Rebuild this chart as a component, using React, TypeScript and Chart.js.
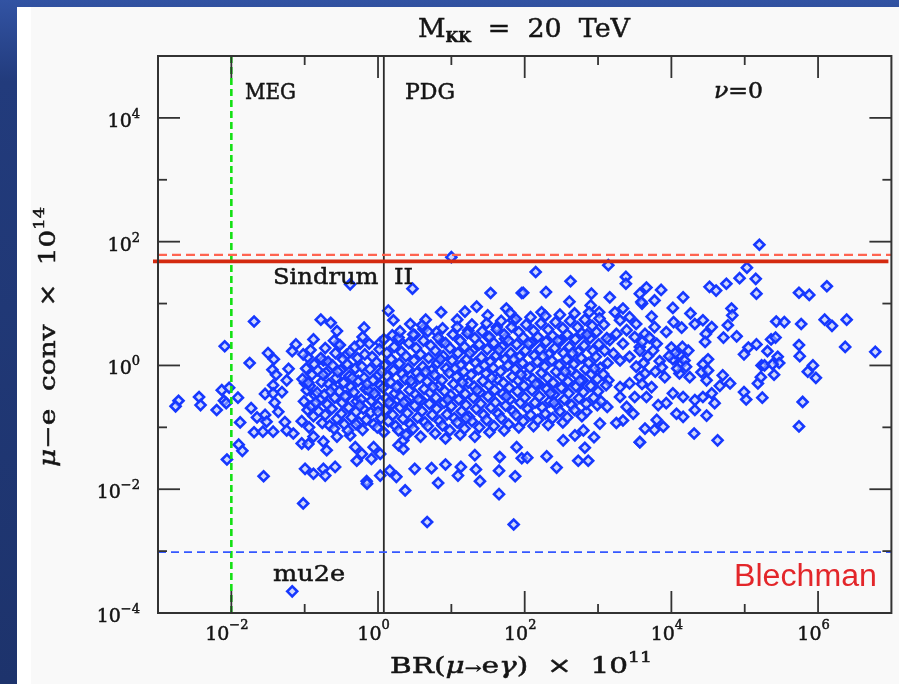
import React, { useEffect, useRef } from "react";
import { Chart, registerables } from "chart.js";
Chart.register(...registerables);

type P = [number, number]; // [log10 BR x 1e11, log10 conv x 1e14]

// axis ranges & ticks (decade exponents)
const xRangeExp: [number, number] = [-3, 7];
const yRangeExp: [number, number] = [-4, 5];
const xMajorExp = [-2, 0, 2, 4, 6];
const xMinorExp = [-1, 1, 3, 5];
const yMajorExp = [-4, -2, 0, 2, 4];
const yMinorExp = [-3, -1, 1, 3];

// experimental limits
const megLimit = 0.01;
const pdgLimit = 1.2;
const sindrumSolid = 48;
const sindrumDashed = 61;
const mu2eLimit = 0.00096;

// scatter values (as decade exponents)
const sparseLeft: P[] = [
  [-1.69,0.71],[-2.09,0.31],[-1.75,0.04],[-1.50,0.20],[-1.42,0.10],[-1.44,-0.07],[-1.39,-0.15],[-1.43,-0.32],
  [-2.13,-0.40],[-2.03,-0.36],[-2.44,-0.51],[-2.42,-0.64],[-2.72,-0.57],[-2.76,-0.66],[-2.20,-0.72],[-2.10,-0.57],
  [-2.07,-0.61],[-1.91,-0.52],[-1.54,-0.46],[-1.43,-0.45],[-1.41,-0.60],[-1.73,-0.69],[-1.65,-0.84],[-1.54,-0.80],
  [-1.52,-0.91],[-1.88,-0.92],[-1.69,-1.08],[-1.57,-1.07],[-1.43,-1.07],[-1.90,-1.28],[-1.85,-1.38],[-2.06,-1.52],
  [-1.56,-1.79],[-1.36,-0.75],
];
const sparseMid: P[] = [
  [-0.78,0.74],[-0.645,0.69],[-0.56,0.555],[-0.88,0.42],[-1.12,0.34],[-1.17,0.23],[-0.55,0.345],[-0.19,0.61],
  [-0.245,0.35],[-0.21,0.46],[0.14,0.885],[0.21,0.73],[0.195,0.485],[0.29,0.405],[0.03,0.37],[-0.96,0.135],
  [-0.745,0.08],[-0.43,0.17],[-1.22,-0.055],[-1.245,-0.24],[-0.995,-0.285],[-1.31,-0.43],
  [-1.27,-0.915],[-1.245,-1.05],[-1.155,-1.10],[-1.04,-1.26],[-0.95,-1.27],[-0.88,-1.15],[-0.745,-1.23],[-0.70,-1.37],
  [-0.56,-1.15],[-0.38,-1.13],[-0.31,-1.32],[-0.22,-1.43],[-0.06,-1.32],[-0.29,-1.54],[-0.09,-1.51],[0.03,-1.43],
  [-0.995,-1.67],[-0.88,-1.75],[-0.745,-1.67],[-0.72,-1.78],[-0.585,-1.64],[-0.155,-1.87],[0.03,-1.78],[0.16,-1.70],
  [0.25,-1.80],[0.28,-1.29],[0.345,-1.21],
];
const outliers: P[] = [
  [-1.02,-2.23],[-1.17,-3.65],[-0.15,-1.91],[0.37,-2.02],[0.67,-2.53],[0.82,-1.90],[1.39,-1.87],[1.65,-2.08],[1.85,-2.57],
  [-0.38,1.31],[0.47,1.24],[1.0,1.75],[1.535,1.17],[1.96,1.17],
];
const sparseCenter: P[] = [
  [1.87,-1.79],[0.50,-1.67],[0.73,-1.66],[0.92,-1.60],[1.13,-1.64],[1.09,-1.78],[1.335,-1.68],[1.66,-1.48],[1.65,-1.70],
  [1.32,-1.45],[0.345,-1.35],[0.39,-1.12],[1.89,-1.32],[1.96,-1.50],
  [0.86,0.86],[0.65,0.74],[0.44,0.67],[1.08,0.74],[1.185,0.87],[1.345,0.95],[1.495,0.81],[1.75,0.92],[1.84,0.73],
  [0.87,0.38],[0.80,0.54],[0.62,0.59],[0.50,0.49],[1.23,0.565],[1.50,0.46],[1.73,0.43],[1.62,0.62],[1.12,0.40],
];
const sparseRightMid: P[] = [
  [2.15,1.51],[2.625,1.36],[1.98,1.175],[2.29,1.185],[3.14,1.62],[3.38,1.43],[3.38,1.32],[3.57,1.16],[3.60,1.0],
  [2.61,1.03],[2.91,1.16],[2.90,0.97],[3.015,0.86],[2.23,0.86],[3.16,1.10],
  [2.84,-0.75],[3.125,-0.67],[2.99,-0.64],[2.525,-1.21],[2.685,-1.13],[2.80,-1.05],[2.945,-1.16],[2.82,-1.33],
  [2.73,-1.54],[2.866,-1.54],[2.435,-1.65],[2.30,-1.47],[2.035,-1.49],[3.57,-1.24],[3.34,-0.89],[3.48,-0.78],
  [3.25,-0.93],[3.025,-0.94],
  [3.23,0.86],[3.34,0.92],[3.30,0.73],[3.43,0.78],[3.52,0.67],[3.39,0.57],[3.25,0.51],[3.50,0.46],[3.16,0.41],
  [3.34,0.35],[3.57,0.30],[3.43,0.14],[3.30,0.08],[3.52,-0.02],[3.21,0.19],[3.14,-0.24],[3.30,-0.35],[3.43,-0.29],
  [3.50,-0.51],[3.30,-0.51],[3.39,-0.67],[3.57,-0.19],
];
const sparseRight: P[] = [
  [5.2,1.95],[5.03,1.58],[4.93,1.41],[5.15,1.40],[5.16,1.16],[4.52,1.27],[4.61,1.21],[4.75,1.32],[3.66,1.26],[3.86,1.22],
  [3.77,1.05],[4.16,1.10],[3.59,1.025],[4.02,0.93],[4.82,0.92],[4.83,0.81],[4.26,0.84],[3.73,0.79],[4.43,0.73],[4.55,0.62],
  [4.77,0.65],[4.71,0.45],[4.89,0.47],[4.47,0.51],[4.46,0.38],[4.03,0.70],[4.14,0.61],[4.32,0.67],[3.93,0.54],[3.77,0.62],
  [3.64,0.51],[5.16,0.34],[5.05,0.29],[4.99,0.18],[3.57,0.24],[3.75,0.24],[4.0,0.29],[4.11,0.18],[4.23,0.24],[4.02,0.1],
  [4.13,0.02],[3.62,0.04],[3.84,0.07],[4.43,0.02],[4.5,0.1],[4.41,-0.11],[4.5,-0.08],[3.87,-0.03],[3.64,-0.13],[4.11,-0.13],
  [3.91,-0.19],[4.25,-0.19],[4.48,-0.24],[4.7,-0.16],[4.8,-0.29],[4.66,-0.33],[3.73,-0.35],[3.66,-0.51],[4.02,-0.45],[4.16,-0.51],
  [4.32,-0.56],[4.43,-0.51],[4.55,-0.45],[4.59,-0.61],[4.32,-0.72],[4.48,-0.81],[3.93,-0.61],[3.82,-0.64],[3.8,-0.88],[4.07,-0.78],
  [4.16,-0.83],[3.64,-1.02],[3.77,-1.04],[3.89,-0.99],[3.57,-1.24],[4.31,-1.1],[4.63,-1.21],[4.99,-0.43],[5.02,-0.55],[5.18,-0.29],
  [5.23,0.0],[4.05,0.2],[4.18,0.08],[4.08,-0.05],[4.2,-0.02],[3.97,0.15],[4.15,0.3],[3.7,0.45],[3.6,0.38],[3.8,0.35],
  [3.68,0.15],[3.78,-0.1],[3.6,-0.3],
];
const sparseFarRight: P[] = [
  [5.74,1.175],[5.88,1.14],[6.12,1.28],[5.43,0.71],[5.54,0.70],[5.77,0.67],[6.09,0.74],[6.19,0.64],
  [6.39,0.74],[5.36,0.42],[5.42,0.45],[5.31,0.23],[5.74,0.33],[5.75,0.15],[6.37,0.3],[6.78,0.22],[5.45,0.14],[5.47,0.04],
  [5.27,0.0],[5.38,0.02],[5.93,-0.0],[5.86,-0.1],[5.97,-0.2],[5.4,-0.15],[5.22,-0.19],[5.24,-0.52],[5.79,-0.59],[5.74,-0.985],
];
const cloudLeft: P[] = [
  [-1.02,0.18],[-0.98,-0.05],[-1.03,-0.22],[-0.97,-0.4],[-1.01,-0.58],[-0.96,-0.72],[-1.04,-0.9],
  [-0.92,0.25],[-0.87,0.02],[-0.9,-0.15],[-0.93,-0.33],[-0.86,-0.48],[-0.91,-0.66],[-0.88,-0.82],[-0.94,-1.0],
  [-0.78,0.12],[-0.82,-0.08],[-0.77,-0.27],[-0.83,-0.44],[-0.79,-0.55],[-0.81,-0.74],[-0.76,-0.93],
  [-0.72,0.28],[-0.68,0.06],[-0.71,-0.12],[-0.67,-0.3],[-0.73,-0.47],[-0.69,-0.63],[-0.72,-0.8],[-0.66,-0.97],
  [-0.58,0.2],[-0.62,0.0],[-0.57,-0.2],[-0.61,-0.36],[-0.59,-0.52],[-0.63,-0.7],[-0.56,-0.86],[-0.6,-1.02],
  [-0.52,0.33],[-0.48,0.1],[-0.51,-0.08],[-0.47,-0.28],[-0.53,-0.42],[-0.49,-0.6],[-0.5,-0.78],[-0.46,-0.95],
  [-0.38,0.22],[-0.42,0.02],[-0.39,-0.17],[-0.37,-0.35],[-0.43,-0.5],[-0.4,-0.68],[-0.36,-0.84],[-0.41,-1.05],
  [-0.32,0.3],[-0.28,0.12],[-0.31,-0.05],[-0.27,-0.25],[-0.33,-0.43],[-0.29,-0.58],[-0.3,-0.75],[-0.26,-0.92],
  [-0.18,0.18],[-0.22,-0.02],[-0.19,-0.2],[-0.17,-0.38],[-0.23,-0.55],[-0.2,-0.7],[-0.16,-0.88],[-0.21,-1.04],
  [-0.12,0.35],[-0.08,0.14],[-0.11,-0.06],[-0.07,-0.24],[-0.13,-0.4],[-0.09,-0.57],[-0.1,-0.76],[-0.06,-0.95],
  [0.02,0.26],[-0.02,0.05],[0.01,-0.15],[0.03,-0.32],[-0.03,-0.5],[0.0,-0.66],[0.04,-0.85],[-0.01,-1.0],
  [0.08,0.42],[0.12,0.2],[0.09,0.0],[0.13,-0.18],[0.07,-0.36],[0.11,-0.53],[0.1,-0.72],[0.14,-0.9],[0.08,-1.08],
  [0.22,0.3],[0.18,0.1],[0.21,-0.08],[0.17,-0.27],[0.23,-0.45],[0.19,-0.62],[0.2,-0.8],[0.24,-0.98],
  [0.28,0.45],[0.32,0.22],[0.29,0.03],[0.33,-0.14],[0.27,-0.33],[0.31,-0.5],[0.3,-0.68],[0.34,-0.86],[0.28,-1.05],
  [0.42,0.36],[0.38,0.15],[0.41,-0.05],[0.37,-0.22],[0.43,-0.4],[0.39,-0.58],[0.4,-0.77],[0.44,-0.95],[0.38,-1.12],
];
const cloudCenter: P[] = [
  [0.48,0.5],[0.52,0.28],[0.49,0.08],[0.53,-0.12],[0.47,-0.3],[0.51,-0.47],[0.5,-0.65],[0.54,-0.84],[0.48,-1.02],
  [0.62,0.4],[0.58,0.18],[0.61,-0.02],[0.57,-0.2],[0.63,-0.38],[0.59,-0.56],[0.6,-0.74],[0.64,-0.92],[0.58,-1.15],
  [0.68,0.55],[0.72,0.32],[0.69,0.12],[0.73,-0.08],[0.67,-0.26],[0.71,-0.44],[0.7,-0.62],[0.74,-0.8],[0.68,-0.98],
  [0.82,0.45],[0.78,0.24],[0.81,0.04],[0.77,-0.15],[0.83,-0.33],[0.79,-0.52],[0.8,-0.7],[0.84,-0.9],[0.78,-1.1],
  [0.88,0.6],[0.92,0.36],[0.89,0.15],[0.93,-0.05],[0.87,-0.24],[0.91,-0.42],[0.9,-0.6],[0.94,-0.79],[0.88,-0.97],[0.92,-1.18],
  [1.02,0.5],[0.98,0.28],[1.01,0.08],[0.97,-0.12],[1.03,-0.3],[0.99,-0.48],[1.0,-0.66],[1.04,-0.85],[0.98,-1.05],
  [1.08,0.62],[1.12,0.4],[1.09,0.2],[1.13,0.0],[1.07,-0.18],[1.11,-0.37],[1.1,-0.55],[1.14,-0.74],[1.08,-0.92],[1.12,-1.12],
  [1.22,0.52],[1.18,0.3],[1.21,0.1],[1.17,-0.1],[1.23,-0.28],[1.19,-0.46],[1.2,-0.64],[1.24,-0.83],[1.18,-1.02],
  [1.28,0.66],[1.32,0.44],[1.29,0.24],[1.33,0.04],[1.27,-0.15],[1.31,-0.34],[1.3,-0.52],[1.34,-0.7],[1.28,-0.9],[1.32,-1.15],
  [1.42,0.55],[1.38,0.34],[1.41,0.13],[1.37,-0.06],[1.43,-0.25],[1.39,-0.43],[1.4,-0.62],[1.44,-0.8],[1.38,-1.0],
  [1.48,0.68],[1.52,0.46],[1.49,0.26],[1.53,0.06],[1.47,-0.13],[1.51,-0.32],[1.5,-0.5],[1.54,-0.68],[1.48,-0.88],[1.52,-1.08],
  [1.62,0.58],[1.58,0.36],[1.61,0.16],[1.57,-0.04],[1.63,-0.22],[1.59,-0.4],[1.6,-0.6],[1.64,-0.78],[1.58,-0.98],
  [1.68,0.72],[1.72,0.5],[1.69,0.3],[1.73,0.1],[1.67,-0.1],[1.71,-0.28],[1.7,-0.46],[1.74,-0.65],[1.68,-0.85],[1.72,-1.05],
  [1.82,0.62],[1.78,0.4],[1.81,0.2],[1.77,0.0],[1.83,-0.18],[1.79,-0.36],[1.8,-0.55],[1.84,-0.74],[1.78,-0.95],
  [1.88,0.75],[1.92,0.54],[1.89,0.34],[1.93,0.14],[1.87,-0.06],[1.91,-0.24],[1.9,-0.42],[1.94,-0.6],[1.88,-0.8],[1.92,-1.0],
];
const cloudRight: P[] = [
  [2.02,0.66],[1.98,0.45],[2.01,0.24],[1.97,0.04],[2.03,-0.15],[1.99,-0.33],[2.0,-0.52],[2.04,-0.7],[1.98,-0.9],
  [2.08,0.78],[2.12,0.56],[2.09,0.36],[2.13,0.16],[2.07,-0.04],[2.11,-0.22],[2.1,-0.4],[2.14,-0.6],[2.08,-0.8],[2.12,-0.98],
  [2.22,0.68],[2.18,0.46],[2.21,0.26],[2.17,0.06],[2.23,-0.12],[2.19,-0.3],[2.2,-0.5],[2.24,-0.68],[2.18,-0.88],
  [2.28,0.8],[2.32,0.58],[2.29,0.38],[2.33,0.18],[2.27,-0.02],[2.31,-0.2],[2.3,-0.38],[2.34,-0.58],[2.28,-0.78],[2.32,-0.96],
  [2.42,0.7],[2.38,0.48],[2.41,0.28],[2.37,0.08],[2.43,-0.1],[2.39,-0.28],[2.4,-0.47],[2.44,-0.66],[2.38,-0.85],
  [2.48,0.82],[2.52,0.6],[2.49,0.4],[2.53,0.2],[2.47,0.0],[2.51,-0.18],[2.5,-0.36],[2.54,-0.55],[2.48,-0.74],[2.52,-0.92],
  [2.62,0.72],[2.58,0.5],[2.61,0.3],[2.57,0.1],[2.63,-0.08],[2.59,-0.26],[2.6,-0.45],[2.64,-0.64],[2.58,-0.84],
  [2.68,0.84],[2.72,0.62],[2.69,0.42],[2.73,0.22],[2.67,0.02],[2.71,-0.16],[2.7,-0.34],[2.74,-0.53],[2.68,-0.72],
  [2.82,0.74],[2.78,0.52],[2.81,0.32],[2.77,0.12],[2.83,-0.06],[2.79,-0.24],[2.8,-0.43],[2.84,-0.62],[2.78,-0.82],
  [2.88,0.86],[2.92,0.64],[2.89,0.44],[2.93,0.24],[2.87,0.04],[2.91,-0.14],[2.9,-0.33],[2.94,-0.52],
  [3.02,0.76],[2.98,0.54],[3.01,0.34],[2.97,0.14],[3.03,-0.04],[2.99,-0.22],[3.0,-0.42],[3.04,-0.58],
  [3.08,0.66],[3.12,0.44],[3.09,0.24],[3.13,0.04],[3.07,-0.14],[3.11,-0.32],
];
// extra points filling the dense core (read between the columns above)
const cloudCore: P[] = [
  [-0.95,-0.28],[-0.85,-0.6],[-0.75,-0.15],[-0.65,-0.42],[-0.55,-0.1],[-0.45,-0.5],[-0.35,-0.2],[-0.25,-0.65],
  [-0.15,-0.3],[-0.05,-0.45],[0.05,-0.1],[0.15,-0.6],[0.25,-0.35],[0.35,-0.6],[0.45,-0.25],[0.55,-0.55],
  [0.65,-0.1],[0.75,-0.35],[0.85,0.1],[0.95,-0.55],[1.05,-0.05],[1.15,-0.28],[1.25,0.2],[1.35,-0.4],
  [1.45,0.0],[1.55,-0.2],[1.65,0.25],[1.75,-0.5],[1.85,0.1],[1.95,-0.15],[2.05,0.35],[2.15,-0.3],
  [2.25,0.15],[2.35,-0.45],[2.45,0.4],[2.55,-0.1],[2.65,0.2],[2.75,-0.25],[2.85,0.5],[2.95,-0.05],
  [-0.6,0.4],[0.0,-0.75],[0.6,0.65],[1.2,-0.85],[1.8,0.85],[2.4,-0.6],[0.3,0.55],[-0.3,-0.95],
];

const allPoints: P[] = [
  ...sparseLeft, ...sparseMid, ...outliers, ...sparseCenter, ...sparseRightMid,
  ...sparseRight, ...sparseFarRight, ...cloudLeft, ...cloudCenter, ...cloudRight, ...cloudCore,
];

const SERIF = '"DejaVu Serif", "Liberation Serif", serif';

type Seg = { t: string; f: string; dy?: number };
function drawRich(ctx: CanvasRenderingContext2D, segs: Seg[], x: number, y: number, targetW?: number, align: "left" | "center" | "right" = "left", stroke = 0.5) {
  let w = 0;
  for (const s of segs) { ctx.font = s.f; w += ctx.measureText(s.t).width; }
  const sx = targetW ? targetW / w : 1;
  const total = w * sx;
  const start = align === "left" ? x : align === "center" ? x - total / 2 : x - total;
  ctx.save();
  ctx.translate(start, y);
  ctx.scale(sx, 1);
  ctx.textAlign = "left";
  ctx.textBaseline = "alphabetic";
  ctx.strokeStyle = ctx.fillStyle as string;
  ctx.lineWidth = stroke;
  ctx.setLineDash([]);
  let cx = 0;
  for (const s of segs) {
    ctx.font = s.f;
    ctx.fillText(s.t, cx, s.dy || 0);
    if (stroke > 0) ctx.strokeText(s.t, cx, s.dy || 0);
    cx += ctx.measureText(s.t).width;
  }
  ctx.restore();
}

const expLabel = (e: number) => (e < 0 ? "\u2212" + Math.abs(e) : String(e));

const bgPlugin = {
  id: "bg",
  beforeDraw(chart: any) {
    const { ctx, width, height } = chart;
    ctx.save();
    const g = ctx.createLinearGradient(0, 0, 0, height);
    g.addColorStop(0, "#3253a3");
    g.addColorStop(0.12, "#223b7c");
    g.addColorStop(1, "#1d336c");
    ctx.fillStyle = g;
    ctx.fillRect(0, 0, width, height);
    ctx.fillStyle = "#f9f9f9";
    ctx.fillRect(17, 7, width - 17, height - 7);
    ctx.fillStyle = "#ffffff";
    ctx.fillRect(17, 7, 14, height - 7);
    ctx.restore();
  },
};

const overlayPlugin = {
  id: "overlay",
  afterDatasetsDraw(chart: any) {
    const { ctx, chartArea: a, scales } = chart;
    const xs = scales.x, ys = scales.y;
    const line = (x1: number, y1: number, x2: number, y2: number) => {
      ctx.beginPath(); ctx.moveTo(x1, y1); ctx.lineTo(x2, y2); ctx.stroke();
    };
    ctx.save();
    // limit lines
    const gx = xs.getPixelForValue(megLimit);
    ctx.strokeStyle = "#14e014"; ctx.lineWidth = 2.6; ctx.setLineDash([7, 4]);
    line(gx, a.top, gx, a.bottom);
    const px = xs.getPixelForValue(pdgLimit);
    ctx.strokeStyle = "#2a2a2a"; ctx.lineWidth = 1.8; ctx.setLineDash([]);
    line(px, a.top, px, a.bottom);
    const rd = ys.getPixelForValue(sindrumDashed);
    ctx.strokeStyle = "#ff6450"; ctx.lineWidth = 2.2; ctx.setLineDash([9, 5]);
    line(a.left, rd, a.right, rd);
    const rs = ys.getPixelForValue(sindrumSolid);
    ctx.strokeStyle = "#d42a10"; ctx.lineWidth = 3.6; ctx.setLineDash([]);
    line(a.left - 5, rs, a.right - 3, rs);
    const bd = ys.getPixelForValue(mu2eLimit);
    ctx.strokeStyle = "#3558ff"; ctx.lineWidth = 1.8; ctx.setLineDash([8, 5]);
    line(a.left, bd, a.right, bd);
    ctx.setLineDash([]);

    // frame
    ctx.strokeStyle = "#333333"; ctx.lineWidth = 2;
    ctx.strokeRect(a.left, a.top, a.right - a.left, a.bottom - a.top);
    // ticks
    ctx.lineWidth = 1.8;
    for (const e of xMajorExp) {
      const x = xs.getPixelForValue(Math.pow(10, e));
      line(x, a.bottom, x, a.bottom - 22); line(x, a.top, x, a.top + 22);
    }
    for (const e of xMinorExp) {
      const x = xs.getPixelForValue(Math.pow(10, e));
      line(x, a.bottom, x, a.bottom - 9); line(x, a.top, x, a.top + 9);
    }
    for (const e of yMajorExp) {
      const y = ys.getPixelForValue(Math.pow(10, e));
      line(a.left, y, a.left + 22, y); line(a.right, y, a.right - 22, y);
    }
    for (const e of yMinorExp) {
      const y = ys.getPixelForValue(Math.pow(10, e));
      line(a.left, y, a.left + 9, y); line(a.right, y, a.right - 9, y);
    }

    // tick labels
    ctx.fillStyle = "#151515";
    const big = `19px ${SERIF}`, sup = `13px ${SERIF}`;
    for (const e of xMajorExp) {
      const x = xs.getPixelForValue(Math.pow(10, e));
      drawRich(ctx, [{ t: "10", f: big }, { t: expLabel(e), f: sup, dy: -11 }], x - 4.5, a.bottom + 27, undefined, "center");
    }
    for (const e of yMajorExp) {
      const y = ys.getPixelForValue(Math.pow(10, e));
      drawRich(ctx, [{ t: "10", f: big }, { t: expLabel(e), f: sup, dy: -9 }], a.left - 18, y + 9, undefined, "right");
    }

    // annotations
    const lab = `22px ${SERIF}`;
    drawRich(ctx, [{ t: "MEG", f: lab }], 245, 99, 51);
    drawRich(ctx, [{ t: "PDG", f: lab }], 405, 99, 50);
    drawRich(ctx, [{ t: "\u03BD", f: `italic 22px ${SERIF}` }, { t: "=0", f: lab }], 714, 98, 49);
    drawRich(ctx, [{ t: "Sindrum  II", f: lab }], 273, 284, 140);
    drawRich(ctx, [{ t: "mu2e", f: lab }], 273, 581, 72);
    ctx.fillStyle = "#e3262a";
    drawRich(ctx, [{ t: "Blechman", f: `31px "Liberation Sans", Arial, sans-serif` }], 734, 586, 143, "left", 0);

    // titles
    ctx.fillStyle = "#151515";
    drawRich(ctx, [
      { t: "M", f: `26px ${SERIF}` },
      { t: "KK", f: `bold 14px ${SERIF}`, dy: 5 },
      { t: "  =  20  TeV", f: `26px ${SERIF}` },
    ], 418, 37, 212);
    drawRich(ctx, [
      { t: "BR(", f: `22px ${SERIF}` },
      { t: "\u03BC", f: `italic 22px ${SERIF}` },
      { t: "\u2192", f: `15px ${SERIF}` },
      { t: "e", f: `22px ${SERIF}` },
      { t: "\u03B3", f: `italic 22px ${SERIF}` },
      { t: ")  \u00D7  10", f: `22px ${SERIF}` },
      { t: "11", f: `14px ${SERIF}`, dy: -11 },
    ], 390, 673, 262);
    ctx.save();
    ctx.translate(55, 467);
    ctx.rotate(-Math.PI / 2);
    drawRich(ctx, [
      { t: "\u03BC", f: `italic 22px ${SERIF}` },
      { t: "\u2212e  conv  \u00D7  10", f: `22px ${SERIF}` },
      { t: "14", f: `14px ${SERIF}`, dy: -11 },
    ], 0, 0, 260);
    ctx.restore();
    ctx.restore();
  },
};

export default function App() {
  const ref = useRef<HTMLCanvasElement>(null);
  useEffect(() => {
    document.body.style.margin = "0";
    const canvas = ref.current!;
    const chart = new Chart(canvas, {
      type: "scatter",
      data: {
        datasets: [
          {
            data: allPoints.map(([a, b]) => ({ x: Math.pow(10, a), y: Math.pow(10, b) })),
            pointStyle: "rectRot",
            pointRadius: 5,
            borderWidth: 2.6,
            borderColor: "#1638ff",
            backgroundColor: "rgba(175,190,255,0.55)",
          },
        ],
      },
      options: {
        responsive: false,
        animation: false,
        devicePixelRatio: 1,
        layout: { padding: { left: 158, right: 7, top: 56, bottom: 71 } },
        scales: {
          x: { type: "logarithmic", min: Math.pow(10, xRangeExp[0]), max: Math.pow(10, xRangeExp[1]), display: false },
          y: { type: "logarithmic", min: Math.pow(10, yRangeExp[0]), max: Math.pow(10, yRangeExp[1]), display: false },
        },
        plugins: { legend: { display: false }, tooltip: { enabled: false } },
      },
      plugins: [bgPlugin, overlayPlugin],
    } as any);
    return () => chart.destroy();
  }, []);
  return (
    <div style={{ position: "fixed", left: 0, top: 0, width: 899, height: 684 }}>
      <canvas ref={ref} width={899} height={684} style={{ display: "block", width: 899, height: 684 }} />
    </div>
  );
}
